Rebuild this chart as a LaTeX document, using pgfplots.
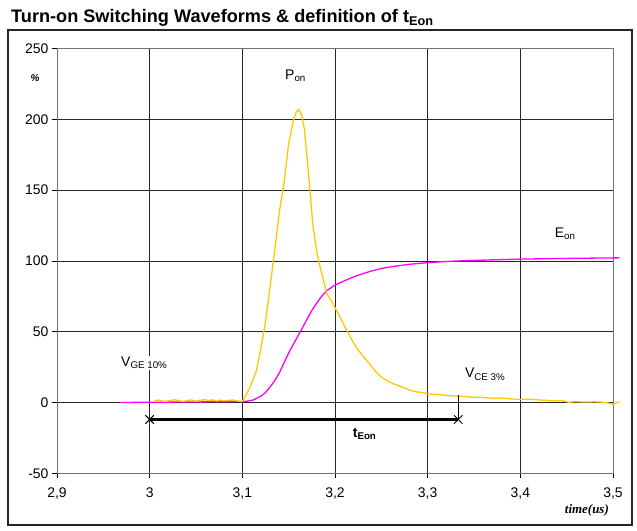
\documentclass[border=0pt]{standalone}
\usepackage{fontspec}
\setmainfont{Liberation Sans}
\newfontfamily\timesfont{Liberation Serif}
\usepackage{pgfplots}
\pgfplotsset{compat=1.18}
\definecolor{ponyellow}{RGB}{255,200,0}
\definecolor{eonmagenta}{RGB}{255,0,255}

\pgfplotstableread{
x y
3.005 1.0
3.010 1.8
3.013 1.2
3.017 0.8
3.022 1.5
3.027 1.9
3.032 1.3
3.036 0.7
3.040 1.4
3.045 1.8
3.050 1.0
3.055 1.6
3.060 2.0
3.064 1.3
3.068 1.9
3.072 1.0
3.076 1.7
3.080 1.2
3.085 1.5
3.090 1.8
3.095 1.0
3.100 0.7
3.105 6.5
3.110 13.5
3.115 22
3.120 38
3.125 57
3.130 82
3.135 108
3.140 135
3.145 155
3.150 183
3.155 199
3.158 205
3.161 207
3.164 203
3.167 193
3.170 172
3.173 150
3.176 126
3.180 108
3.183 98
3.187 88
3.191 77
3.196 72
3.200 67
3.205 61
3.211 53
3.216 47
3.220 42
3.225 37
3.230 33
3.235 29
3.240 25
3.245 21
3.250 18
3.257 15
3.264 13
3.270 11.5
3.276 10
3.282 8.5
3.288 7.5
3.295 7
3.302 6
3.310 5.7
3.318 5.2
3.326 4.8
3.333 4.5
3.340 4.2
3.348 3.8
3.356 3.7
3.364 3.3
3.372 3.0
3.380 3.2
3.390 2.6
3.400 2.1
3.410 2.4
3.420 1.8
3.430 1.5
3.436 1.1
3.445 1.3
3.452 0.2
3.460 0.6
3.470 0.3
3.480 0.5
3.490 0.2
3.496 -0.5
3.500 -1.3
3.503 -0.5
3.507 0.4
}\pon

\pgfplotstableread{
x y
2.968 0
3.000 0.2
3.050 0.4
3.100 0.7
3.105 0.9
3.112 1.8
3.120 4.5
3.125 7
3.130 11
3.135 15.5
3.140 21
3.145 28
3.150 35
3.155 41
3.160 47
3.165 53
3.170 59
3.175 65
3.180 70
3.185 74.5
3.191 79
3.200 83
3.212 86.5
3.220 88.7
3.230 91
3.240 93
3.250 94.7
3.265 96.3
3.280 97.6
3.300 98.8
3.325 99.8
3.350 100.4
3.400 101.3
3.450 101.8
3.507 102.2
}\eon

\begin{document}
\begin{tikzpicture}
\begin{axis}[
  at={(0,0)}, anchor=south west,
  scale only axis, width=556bp, height=424.7bp,
  xmin=2.9, xmax=3.5, ymin=-50, ymax=250,
  xtick={2.9,3.0,3.1,3.2,3.3,3.4,3.5},
  xticklabels={{2,9},3,{3,1},{3,2},{3,3},{3,4},{3,5}},
  ytick={-50,0,50,100,150,200,250},
  yticklabels={-50,0,50,100,150,200,250},
  tick label style={font=\fontsize{14}{16}\selectfont},
  xticklabel style={yshift=-6bp},
  tick pos=left, tick align=outside, major tick length=5bp,
  tick style={black, line width=0.6bp},
  grid=major,
  major grid style={black!85, line width=0.6bp},
  axis line style={black!55, line width=0.8bp},
  clip=false,
]
\addplot[eonmagenta, line width=1.3bp] table {\eon};
\addplot[ponyellow, line width=1.3bp] table {\pon};
\addplot[black, line width=0.6bp] coordinates {(3.333,5) (3.333,-12)};
\addplot[black, line width=3bp, mark=x, mark size=6pt, mark options={line width=1bp}]
  coordinates {(3.0,-12) (3.333,-12)};
\node[anchor=west, fill=white, inner sep=1bp, font=\fontsize{14}{16}\selectfont]
  at (axis cs:2.968,28) {V\textsubscript{GE 10\%}};
\node[anchor=west, inner sep=1bp, font=\fontsize{14}{16}\selectfont]
  at (axis cs:3.339,20) {V\textsubscript{CE 3\%}};
\node[anchor=west, inner sep=1bp, font=\fontsize{14}{16}\selectfont]
  at (axis cs:3.145,231) {P\textsubscript{on}};
\node[anchor=west, inner sep=1bp, font=\fontsize{14}{16}\selectfont]
  at (axis cs:3.436,119.5) {E\textsubscript{on}};
\node[inner sep=1bp, font=\fontsize{14}{16}\selectfont\bfseries]
  at (axis cs:3.232,-22) {t\textsubscript{Eon}};
\end{axis}
% page frame, title and axis captions in reference pixels (origin top-left)
\begin{scope}[shift={(-57bp,473.3bp)}, x=1bp, y=-1bp]
\path[use as bounding box] (0,0) rectangle (637,531);
\draw[line width=1.5bp, black!85] (8,30) rectangle (632,525);
\node[anchor=base west, inner sep=0, font=\fontsize{18.2}{20}\selectfont\bfseries]
  at (11,23) {Turn-on Switching Waveforms \& definition of t\textsubscript{Eon}};
\node[font=\fontsize{10}{11}\selectfont\bfseries\itshape] at (35,78) {\%};
\node[anchor=base east, inner sep=0, font=\fontsize{13}{14}\selectfont\timesfont\bfseries\itshape]
  at (609,514) {time(us)};
\end{scope}
\end{tikzpicture}
\end{document}
